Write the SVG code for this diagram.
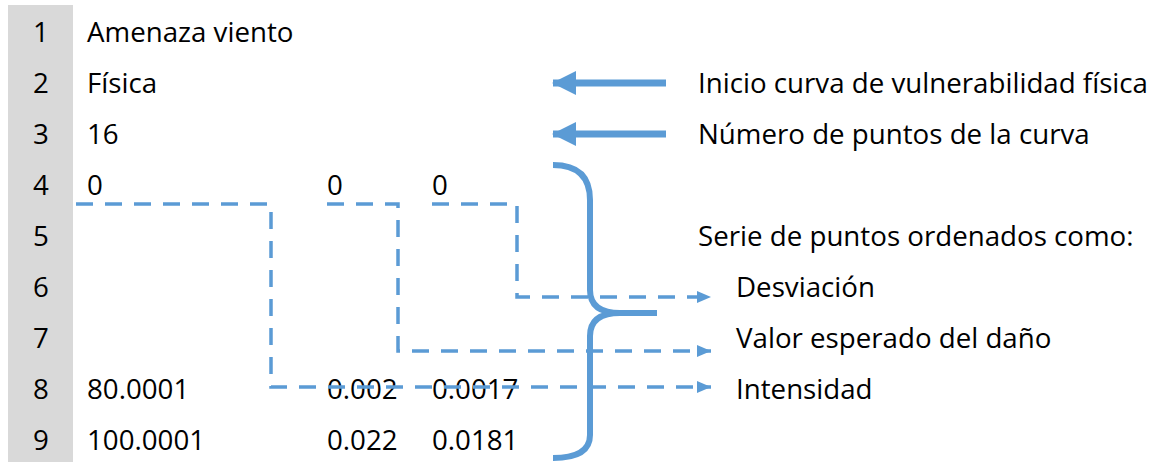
<svg xmlns="http://www.w3.org/2000/svg" width="1154" height="462" viewBox="0 0 1154 462">
<style>
  text { font-family: "Open Sans", "Noto Sans", sans-serif; font-size: 27.7px; fill: #000; }
  .num { text-anchor: middle; }
  .solid { stroke: #5b9bd5; stroke-width: 7; fill: none; }
  .dash { stroke: #5b9bd5; stroke-width: 3.5; fill: none; stroke-dasharray: 17 12; }
  .brace { stroke: #5b9bd5; stroke-width: 6; fill: none; stroke-linecap: butt; }
</style>
<defs>
  <marker id="bigHead" markerUnits="userSpaceOnUse" markerWidth="26" markerHeight="24" refX="23" refY="12" orient="auto">
    <path d="M0 0 L24 12 L0 24 Z" fill="#5b9bd5"/>
  </marker>
  <marker id="smallHead" markerUnits="userSpaceOnUse" markerWidth="16" markerHeight="14" refX="14" refY="6" orient="auto">
    <path d="M0 0 L14 6 L0 12 Z" fill="#5b9bd5"/>
  </marker>
</defs>
<rect x="0" y="0" width="1154" height="462" fill="#ffffff"/>
<g id="row-numbers">
  <rect x="8" y="5" width="65" height="457" fill="#d9d9d9"/>
  <text class="num" x="41" y="42">1</text>
  <text class="num" x="41" y="93">2</text>
  <text class="num" x="41" y="144">3</text>
  <text class="num" x="41" y="195">4</text>
  <text class="num" x="41" y="246">5</text>
  <text class="num" x="41" y="297">6</text>
  <text class="num" x="41" y="348">7</text>
  <text class="num" x="41" y="399">8</text>
  <text class="num" x="41" y="450">9</text>
</g>
<g id="data">
  <text x="87" y="42">Amenaza viento</text>
  <text x="87" y="93">Física</text>
  <text x="87" y="144">16</text>
  <text x="87" y="195">0</text>
  <text x="327" y="195">0</text>
  <text x="432" y="195">0</text>
  <text x="87" y="399">80.0001</text>
  <text x="327" y="399">0.002</text>
  <text x="432" y="399">0.0017</text>
  <text x="87" y="450">100.0001</text>
  <text x="327" y="450">0.022</text>
  <text x="432" y="450">0.0181</text>
</g>
<g id="labels">
  <text x="698" y="93">Inicio curva de vulnerabilidad física</text>
  <text x="698" y="144">Número de puntos de la curva</text>
  <text x="698" y="246">Serie de puntos ordenados como:</text>
  <text x="736" y="297">Desviación</text>
  <text x="736" y="348">Valor esperado del daño</text>
  <text x="736" y="399">Intensidad</text>
</g>
<g id="connectors">
  <line class="solid" x1="666" y1="83" x2="553" y2="83" marker-end="url(#bigHead)"/>
  <line class="solid" x1="666" y1="134" x2="553" y2="134" marker-end="url(#bigHead)"/>
  <path class="dash" d="M76 204 H271 V387 H711" marker-end="url(#smallHead)"/>
  <path class="dash" d="M327 204 H398 V351 H711" marker-end="url(#smallHead)"/>
  <path class="dash" d="M432 204 H517 V297 H711" marker-end="url(#smallHead)"/>
  <path class="brace" d="M553 165 Q590 165 590 200 L590 290 Q590 313 620 313 L657 313 M620 313 Q590 313 590 336 L590 435 Q590 458 553 458"/>
</g>
</svg>
